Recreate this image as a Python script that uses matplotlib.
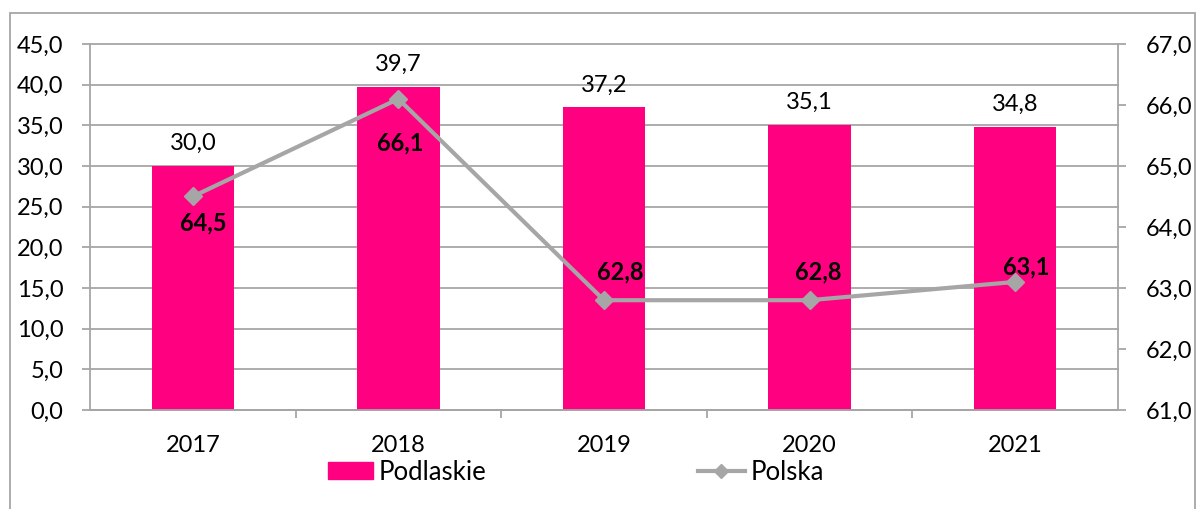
import matplotlib
matplotlib.use("Agg")
import matplotlib.pyplot as plt
from matplotlib.patches import Rectangle
from matplotlib.lines import Line2D

years = ["2017", "2018", "2019", "2020", "2021"]
podlaskie = [30.0, 39.7, 37.2, 35.1, 34.8]
polska = [64.5, 66.1, 62.8, 62.8, 63.1]
left_ticks = [0, 5, 10, 15, 20, 25, 30, 35, 40, 45]
right_ticks = [61, 62, 63, 64, 65, 66, 67]

plt.rcParams['font.family'] = ['Lato', 'DejaVu Sans']

W, H = 1198, 509
fig = plt.figure(figsize=(W/100, H/100), dpi=100)
L, R, T, B = 90, 1118, 44, 410
ax = fig.add_axes([L/W, 1-B/H, (R-L)/W, (B-T)/H])
ax2 = ax.twinx()

FS = 17
grid_c = '#A6A6A6'
bar_c = '#FF0080'
x = list(range(len(years)))
ax.bar(x, podlaskie, width=0.4, color=bar_c, zorder=2)
ax.set_xlim(-0.5, len(years)-0.5)
ax.set_ylim(0, 45)
ax.set_yticks(left_ticks)
ax.set_yticklabels([f"{v:.1f}".replace('.', ',') for v in left_ticks])
for v in left_ticks:
    ax.axhline(v, color=grid_c, lw=1.3, zorder=1, clip_on=False)
ax.set_xticks(x)
ax.set_xticklabels(years)
ax.set_xticks([i + 0.5 for i in x[:-1]], minor=True)
ax.tick_params(axis='x', which='major', length=0, pad=18, labelsize=FS)
ax.tick_params(axis='x', which='minor', length=6, color=grid_c, width=1.3)
ax.tick_params(axis='y', length=6, color=grid_c, width=1.3, labelsize=FS, pad=13)
for s in ['top', 'right']:
    ax.spines[s].set_visible(False)
ax.spines['left'].set_color(grid_c)
ax.spines['left'].set_linewidth(1.3)
ax.spines['bottom'].set_color(grid_c)
ax.spines['bottom'].set_linewidth(1.3)

for i, v in enumerate(podlaskie):
    ax.text(i, v + 1.95, f"{v:.1f}".replace('.', ','), ha='center', va='baseline', fontsize=FS)

ax2.plot(x, polska, color=grid_c, lw=3, marker='D', markersize=9, zorder=5)
ax2.set_ylim(61, 67)
ax2.set_yticks(right_ticks)
ax2.set_yticklabels([f"{v:.1f}".replace('.', ',') for v in right_ticks])
ax2.tick_params(axis='y', length=6, color=grid_c, width=1.3, labelsize=FS, pad=14)
for s in ['top', 'left', 'bottom']:
    ax2.spines[s].set_visible(False)
ax2.spines['right'].set_color(grid_c)
ax2.spines['right'].set_linewidth(1.3)

offsets = [(0.05, -0.56), (0.01, -0.85), (0.08, 0.34), (0.04, 0.34), (0.055, 0.13)]
for i, v in enumerate(polska):
    dx, dy = offsets[i]
    ax2.text(i + dx, v + dy, f"{v:.1f}".replace('.', ','), ha='center', va='baseline',
             fontsize=FS, fontweight='bold', zorder=6)

fig.patches.append(Rectangle((10/W, -0.05), 1185/W, 1.05 - 13/H, transform=fig.transFigure,
                             fill=False, edgecolor=grid_c, lw=1.3))

LFS = 18.5
handles = [Rectangle((0, 0), 1, 1, color=bar_c),
           Line2D([0], [0], color=grid_c, lw=3, marker='D', markersize=7)]
fig.legend(handles[:1], ['Podlaskie'], loc='center left', bbox_to_anchor=(328/W, 1-472/H),
           frameon=False, fontsize=LFS, handlelength=45/25.7, handleheight=0.6,
           handletextpad=0.2, borderaxespad=0, borderpad=0)
fig.legend(handles[1:], ['Polska'], loc='center left', bbox_to_anchor=(698/W, 1-472/H),
           frameon=False, fontsize=LFS, handlelength=47/25.7,
           handletextpad=0.2, borderaxespad=0, borderpad=0)

fig.savefig("out.png", dpi=100)
